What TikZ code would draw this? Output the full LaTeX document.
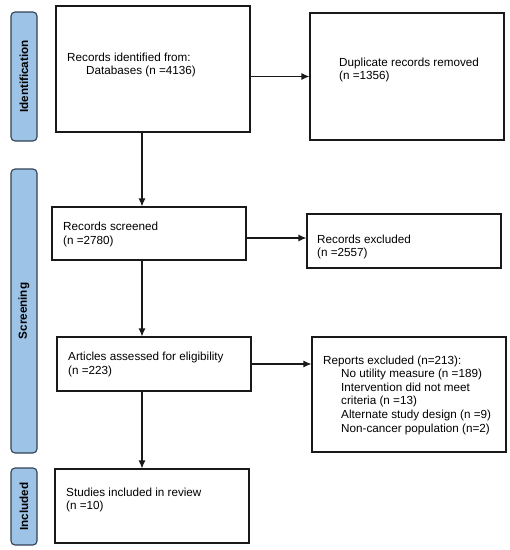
\documentclass[tikz,border=0pt]{standalone}
\usepackage{fontspec}
\setmainfont{Liberation Sans}
\usetikzlibrary{arrows.meta}
\definecolor{barfill}{RGB}{157,195,230}
\definecolor{bardraw}{RGB}{50,65,85}
\definecolor{linec}{RGB}{25,25,25}
\tikzset{
  box/.style={draw=linec, line width=1.1pt, fill=white, inner sep=0pt},
  bar/.style={draw=bardraw, line width=1.1pt, fill=barfill, rounded corners=4pt, inner sep=0pt, minimum width=26pt},
  bartext/.style={rotate=90, font=\fontsize{11.7}{14}\selectfont\bfseries, inner sep=0pt},
  txt/.style={anchor=west, align=left, inner sep=0pt, font=\fontsize{11.7}{13.6}\selectfont},
  arr/.style={draw=linec, line width=1.1pt, -{Latex[length=8pt,width=7pt]}}
}
\begin{document}
\begin{tikzpicture}[x=1pt,y=-1pt]
\useasboundingbox (0,0) rectangle (510,550);
% phase bars
\node[bar, minimum height=129pt] (bid) at (24,76.5) {};
\node[bartext] (tid) at (bid.center) {Identification};
\node[bar, minimum height=284pt] (bsc) at (24,311) {};
\node[bartext] (tsc) at (bsc.center) {Screening};
\node[bar, minimum height=77pt] (bin) at (24,506.5) {};
\node[bartext] (tin) at (bin.center) {Included};
% boxes
\node[box, minimum width=194pt, minimum height=126pt] (b1) at (153,69) {};
\node[box, minimum width=194pt, minimum height=127pt] (b2) at (407,76.5) {};
\node[box, minimum width=194pt, minimum height=53pt] (scr) at (149,233.5) {};
\node[box, minimum width=194pt, minimum height=54pt] (exc) at (404,241) {};
\node[box, minimum width=194pt, minimum height=54pt] (art) at (154,364) {};
\node[box, minimum width=194pt, minimum height=115pt] (rep) at (409,394.5) {};
\node[box, minimum width=194pt, minimum height=74pt] (inc) at (152,506) {};
% texts
\node[txt] (t1) at (67,65) {Records identified from:\\\hspace*{19pt}Databases (n =4136)};
\node[txt] (t2) at (339,70) {Duplicate records removed\\(n =1356)};
\node[txt] (t3) at (63,234.5) {Records screened\\(n =2780)};
\node[txt] (t4) at (317,247) {Records excluded\\(n =2557)};
\node[txt] (t5) at (68,364.5) {Articles assessed for eligibility\\(n =223)};
\node[txt] (t6) at (323,395) {Reports excluded (n=213):\\
\hspace*{18pt}No utility measure (n =189)\\
\hspace*{18pt}Intervention did not meet\\
\hspace*{18pt}criteria (n =13)\\
\hspace*{18pt}Alternate study design (n =9)\\
\hspace*{18pt}Non-cancer population (n=2)};
\node[txt] (t7) at (66,500) {Studies included in review\\(n =10)};
% connectors
\coordinate (xa) at (142,0);
\coordinate (ya) at (0,238);
\draw[arr] (b1.south -| xa) -- (scr.north -| xa);
\draw[arr] (scr.south -| xa) -- (art.north -| xa);
\draw[arr] (art.south -| xa) -- (inc.north -| xa);
\draw[arr] (b2.west -| b1.east) -- (b2.west);
\draw[arr] (scr.east |- ya) -- (exc.west |- ya);
\draw[arr] (art.east) -- (art.east -| rep.west);
\end{tikzpicture}
\end{document}
